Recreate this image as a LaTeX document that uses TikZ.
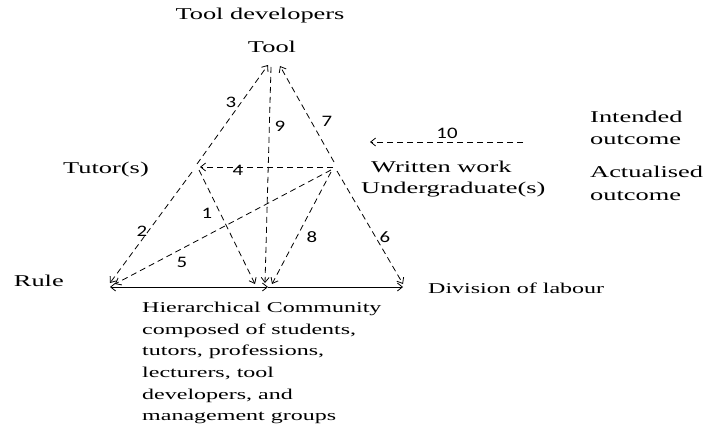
\documentclass[tikz,border=0pt]{standalone}
\usepackage{fontspec}
\setmainfont[FakeStretch=1.6]{Liberation Serif}
\newfontfamily\numfont[FakeStretch=1.3]{Carlito}
\usetikzlibrary{arrows, arrows.meta, calc, positioning}

\begin{document}
\begin{tikzpicture}[x=1pt, y=-1pt, node distance=2pt, auto]
			\tikzset{%
				mytext/.style={inner sep=0pt, font=\fontsize{16.5}{22}\selectfont},
				smalltext/.style={inner sep=0pt, font=\fontsize{15}{21.6}\selectfont},
				mynum/.style={inner sep=0pt, font=\numfont\fontsize{16}{18}\selectfont},
				myarrow/.style={->, >={Straight Barb[length=5pt, width=8pt]}, line width=0.8pt, dash pattern=on 6pt off 4pt},
				myline/.style={>={Straight Barb[length=5pt, width=8pt]}, line width=0.8pt}
			}
			\useasboundingbox (0,0) rectangle (706,433);
			% corners of the triangle
			\coordinate (tool-l) at (268,65);
			\coordinate (tool-m) at (271,67);
			\coordinate (tool-r) at (280,66);
			\coordinate (tutor) at (198,167);
			\coordinate (work) at (335,167);
			\coordinate (rule) at (110,287);
			\coordinate (comm) at (268,287);
			\coordinate (div) at (403,287);
			\coordinate (rule-a) at (110,283);
			\coordinate (rule-b) at (115,284);
			\coordinate (comm-a) at (255,284);
			\coordinate (comm-b) at (265,283);
			\coordinate (comm-c) at (272,284);
			\coordinate (div-a) at (403,284);
			\coordinate (out-r) at (523,142);
			\coordinate (out-l) at (370,142);
			% texts
			\node[mytext] (dev) at (260,16) {Tool developers};
			\node[mytext] (tool) at (272,47) {Tool};
			\node[mytext] (tut) at (106,170) {Tutor(s)};
			\node[mytext, anchor=west] (ww) at (371,167) {Written work};
			\node[mytext, anchor=west] (ug) at (361,190) {Undergraduate(s)};
			\node[mytext, anchor=west] (int1) at (590,117) {Intended};
			\node[mytext, anchor=west] (int2) at (590,140) {outcome};
			\node[mytext, anchor=west] (act1) at (590,172) {Actualised};
			\node[mytext, anchor=west] (act2) at (590,196) {outcome};
			\node[mytext, anchor=east] (rl) at (64,281) {Rule};
			\node[smalltext, anchor=west] (dl) at (428,288) {Division of labour};
			\node[smalltext, anchor=north west, align=left] (hc) at (142,302) {Hierarchical Community\\composed of students,\\tutors, professions,\\lecturers, tool\\developers, and\\management groups};
			% dashed relations
			\draw[myarrow] ($(tutor)+(1,3)$) -- (comm-a);
			\draw[myarrow] ($(tutor)+(-6,5)$) -- (rule-a);
			\draw[myarrow] ($(tutor)+(-1,-3)$) -- (tool-l);
			\draw[myarrow] ($(work)+(-2,0)$) -- ($(tutor)+(2,0)$);
			\draw[myarrow] ($(work)+(-4,3)$) -- (rule-b);
			\draw[myarrow] ($(work)+(2,4)$) -- (div-a);
			\draw[myarrow] ($(work)+(-1,-5)$) -- (tool-r);
			\draw[myarrow] ($(work)+(-4,5)$) -- (comm-c);
			\draw[myarrow] (tool-m) -- (comm-b);
			\draw[myarrow] (out-r) -- (out-l);
			% base line
			\draw[myline, <->] (rule) -- (comm);
			\draw[myline, ->] (comm) -- (div);
			% numbers
			\node[mynum] (n1) at (207,213) {1};
			\node[mynum] (n2) at (142,231) {2};
			\node[mynum] (n3) at (231,102) {3};
			\node[mynum] (n4) at (238,170) {4};
			\node[mynum] (n5) at (182,262) {5};
			\node[mynum] (n6) at (385,237) {6};
			\node[mynum] (n7) at (327,121) {7};
			\node[mynum] (n8) at (312,237) {8};
			\node[mynum] (n9) at (280,126) {9};
			\node[mynum] (n10) at (447,133) {10};
		\end{tikzpicture}
\end{document}
